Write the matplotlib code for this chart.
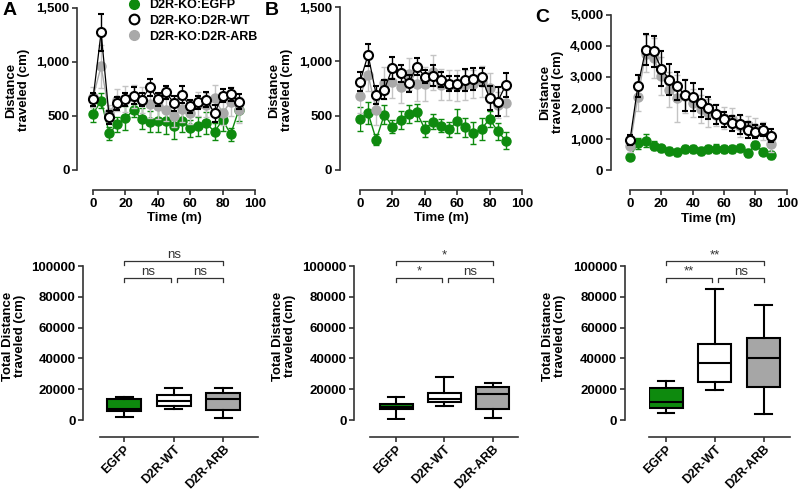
import numpy as np
import matplotlib
matplotlib.use("Agg")
import matplotlib.pyplot as plt
from matplotlib.lines import Line2D
from matplotlib.ticker import FuncFormatter

plt.rcParams['font.family'] = ['Liberation Sans', 'DejaVu Sans']
plt.rcParams['font.weight'] = 'bold'

# time course data (mean +- sem), 5 min bins
time = [0, 5, 10, 15, 20, 25, 30, 35, 40, 45, 50, 55, 60, 65, 70, 75, 80, 85, 90]

a_egfp = [517, 643, 340, 424, 480, 554, 476, 448, 458, 455, 411, 455, 387, 405, 433, 353, 464, 331, 557]
a_egfp_err = [70, 70, 60, 70, 110, 60, 100, 100, 110, 120, 120, 100, 80, 90, 100, 80, 100, 60, 100]
a_wt = [656, 1274, 486, 619, 656, 687, 650, 767, 656, 718, 619, 696, 588, 625, 650, 526, 687, 702, 634]
a_wt_err = [60, 170, 60, 60, 60, 80, 60, 80, 60, 60, 70, 80, 60, 60, 70, 80, 60, 60, 70]
a_arb = [674, 959, 526, 650, 656, 680, 650, 612, 588, 557, 504, 566, 526, 609, 603, 671, 526, 634, 557]
a_arb_err = [90, 200, 80, 100, 120, 110, 120, 130, 120, 100, 110, 120, 100, 110, 110, 120, 110, 130, 120]

b_egfp = [470, 523, 280, 510, 400, 461, 516, 532, 378, 443, 409, 375, 449, 393, 341, 378, 470, 357, 270]
b_egfp_err = [110, 100, 50, 90, 60, 80, 80, 80, 70, 70, 60, 70, 110, 90, 100, 100, 70, 80, 80]
b_wt = [815, 1061, 692, 741, 938, 891, 799, 953, 861, 870, 833, 793, 793, 830, 839, 855, 661, 630, 784]
b_wt_err = [90, 100, 80, 90, 100, 80, 80, 80, 60, 100, 70, 70, 70, 100, 100, 80, 110, 130, 110]
b_arb = [679, 876, 556, 802, 815, 768, 885, 793, 793, 901, 787, 784, 778, 784, 793, 815, 756, 600, 615]
b_arb_err = [150, 150, 140, 150, 150, 150, 150, 160, 160, 160, 140, 140, 140, 140, 130, 140, 140, 120, 120]

c_egfp = [447, 872, 957, 798, 713, 628, 585, 681, 681, 628, 681, 702, 681, 681, 734, 553, 819, 606, 500]
c_egfp_err = [60, 180, 220, 150, 110, 120, 110, 120, 130, 130, 130, 140, 130, 130, 120, 120, 110, 110, 140]
c_wt = [979, 2703, 3873, 3820, 3266, 2915, 2703, 2415, 2362, 2170, 1990, 1798, 1639, 1511, 1479, 1298, 1245, 1298, 1117]
c_wt_err = [150, 350, 500, 500, 550, 500, 450, 500, 450, 450, 350, 300, 250, 250, 300, 250, 200, 200, 200]
c_arb = [798, 2362, 3745, 3607, 3032, 2596, 2309, 2383, 2170, 1958, 1830, 1777, 1670, 1639, 1426, 1458, 1373, 1266, 851]
c_arb_err = [200, 450, 600, 650, 600, 550, 750, 550, 450, 450, 450, 350, 350, 350, 350, 300, 300, 300, 250]

# total distance box stats: whislo, q1, med, q3, whishi
groups = ['EGFP', 'D2R-WT', 'D2R-ARB']
a_box = [[2200, 5600, 7100, 13400, 15100],
         [7400, 9100, 12300, 16000, 21000],
         [1500, 6500, 13400, 17700, 20500]]
b_box = [[500, 7000, 8700, 10200, 14700],
         [9300, 11500, 13600, 17700, 27700],
         [1500, 7100, 16700, 21200, 23800]]
c_box = [[4500, 7800, 11500, 20600, 25300],
         [19700, 24500, 37000, 49100, 85300],
         [3900, 21600, 40000, 53500, 74700]]
a_sig = ['ns', 'ns', 'ns']   # 0-1, 1-2, 0-2
b_sig = ['*', 'ns', '*']
c_sig = ['**', 'ns', '**']

legend_labels = ['D2R-KO:EGFP', 'D2R-KO:D2R-WT', 'D2R-KO:D2R-ARB']

green = '#0e8a0e'
gray = '#a9a9a9'
gray_err = '#c4c4c4'
spine_c = '#333333'

fig = plt.figure(figsize=(8, 4.92), dpi=100)

def style(ax, left_off, bottom_off):
    for s in ['top', 'right']:
        ax.spines[s].set_visible(False)
    ax.spines['left'].set_position(('outward', left_off))
    ax.spines['bottom'].set_position(('outward', bottom_off))
    for s in ['left', 'bottom']:
        ax.spines[s].set_linewidth(1.2)
        ax.spines[s].set_color(spine_c)
    ax.tick_params(width=1.2, length=3.5, color=spine_c, labelsize=9.5, pad=2)

comma = FuncFormatter(lambda v, p: '{:,.0f}'.format(v))

def time_panel(rect, eg, eg_e, wt, wt_e, arb, arb_e, ymax, ystep, loff):
    ax = fig.add_axes(rect)
    style(ax, loff, 14.4)
    ax.errorbar(time, eg, yerr=eg_e, fmt='o-', color=green, ms=6.5, lw=1,
                elinewidth=1, capsize=2.5, capthick=1, zorder=2)
    ax.errorbar(time, arb, yerr=arb_e, fmt='o-', color=gray, ecolor=gray_err, ms=6.5,
                lw=1, elinewidth=1, capsize=2.5, capthick=1, zorder=3)
    ax.errorbar(time, wt, yerr=wt_e, fmt='o-', color='black', mfc='white', mec='black',
                mew=1.5, ms=6.5, lw=0.9, elinewidth=1, capsize=2.5, capthick=1, zorder=4)
    ax.set_xlim(0, 100)
    ax.set_ylim(0, ymax)
    ax.set_xticks([0, 20, 40, 60, 80, 100])
    ax.set_yticks(np.arange(0, ymax + 1, ystep))
    ax.yaxis.set_major_formatter(comma)
    ax.set_xlabel('Time (m)', fontsize=9.5, fontweight='bold', labelpad=2)
    ax.patch.set_alpha(0)
    for l in ax.get_lines():
        l.set_clip_on(False)
    return ax

axA = time_panel([0.11625, 0.6545, 0.2025, 0.3293], a_egfp, a_egfp_err, a_wt, a_wt_err,
                 a_arb, a_arb_err, 1500, 500, 11.5)
axB = time_panel([0.45, 0.6545, 0.2025, 0.331], b_egfp, b_egfp_err, b_wt, b_wt_err,
                 b_arb, b_arb_err, 1500, 500, 14.4)
axC = time_panel([0.7875, 0.6535, 0.196, 0.317], c_egfp, c_egfp_err, c_wt, c_wt_err,
                 c_arb, c_arb_err, 5000, 1000, 13.7)

handles = [Line2D([], [], ls='none', marker='o', ms=7, color=green),
           Line2D([], [], ls='none', marker='o', ms=7, mfc='white', mec='black', mew=1.5),
           Line2D([], [], ls='none', marker='o', ms=7, color=gray)]
fig.legend(handles, legend_labels, loc='upper left', bbox_to_anchor=(0.152, 1.012),
           frameon=False, prop={'size': 9, 'weight': 'bold'}, handletextpad=0.6,
           labelspacing=0.3, handlelength=1.2, borderaxespad=0)

fills = [green, 'white', '#a6a6a6']

def box_panel(rect, stats, sig, xlim, loff):
    ax = fig.add_axes(rect)
    style(ax, loff, 12.2)
    pos = np.arange(len(groups))
    bstats = []
    for g, s in zip(groups, stats):
        bstats.append({'label': g, 'whislo': s[0], 'q1': s[1], 'med': s[2],
                       'q3': s[3], 'whishi': s[4]})
    bp = ax.bxp(bstats, positions=pos, widths=0.68, showfliers=False, patch_artist=True,
                boxprops=dict(linewidth=1.5, edgecolor='black'),
                medianprops=dict(color='black', linewidth=1.5),
                whiskerprops=dict(linewidth=1.5), capprops=dict(linewidth=1.5),
                capwidths=0.34)
    for patch, c in zip(bp['boxes'], fills):
        patch.set_facecolor(c)
    ax.set_xlim(*xlim)
    ax.set_ylim(0, 100000)
    ax.set_yticks(np.arange(0, 100001, 20000))
    ax.set_xticks(pos)
    ax.set_xticklabels(groups, rotation=45, ha='right', rotation_mode='anchor',
                       fontsize=9, fontweight='bold')
    ax.tick_params(axis='x', pad=1)
    ax.patch.set_alpha(0)
    # significance brackets
    lo, hi, drop = 92000, 103000, 2200
    pairs = [(0, 0.95, lo), (1.07, 2, lo), (0, 2, hi)]
    for (x0, x1, y), txt in zip(pairs, sig):
        ax.plot([x0, x0, x1, x1], [y - drop, y, y, y - drop], color='#333333', lw=0.9,
                clip_on=False)
        ax.text((x0 + x1) / 2, y + 300, txt, ha='center', va='bottom', fontsize=9.5,
                fontweight='normal', color='#333333', clip_on=False)
    return ax

box_panel([0.125, 0.1463, 0.1975, 0.313], a_box, a_sig, (-0.49, 2.7), 12.2)
box_panel([0.4625, 0.1463, 0.185, 0.313], b_box, b_sig, (-0.54, 2.52), 11.5)
box_panel([0.811, 0.1463, 0.176, 0.313], c_box, c_sig, (-0.35, 2.53), 17.3)

# y labels
ylab_top = 'Distance\ntraveled (cm)'
ylab_bot = 'Total Distance\ntraveled (cm)'
for x, y, s in [(18, 90, ylab_top), (281, 90, ylab_top), (552, 92, ylab_top),
                (14, 336, ylab_bot), (284, 336, ylab_bot), (554, 336, ylab_bot)]:
    fig.text(x / 800, 1 - y / 492, s, rotation=90, ha='center', va='center',
             fontsize=9.5, fontweight='bold', linespacing=1.1)

# panel letters
for x, y, s in [(3, 2, 'A'), (265, 2, 'B'), (535, 9, 'C')]:
    fig.text(x / 800, 1 - y / 492, s, ha='left', va='top', fontsize=14, fontweight='bold')

fig.savefig('out.png', dpi=100)
